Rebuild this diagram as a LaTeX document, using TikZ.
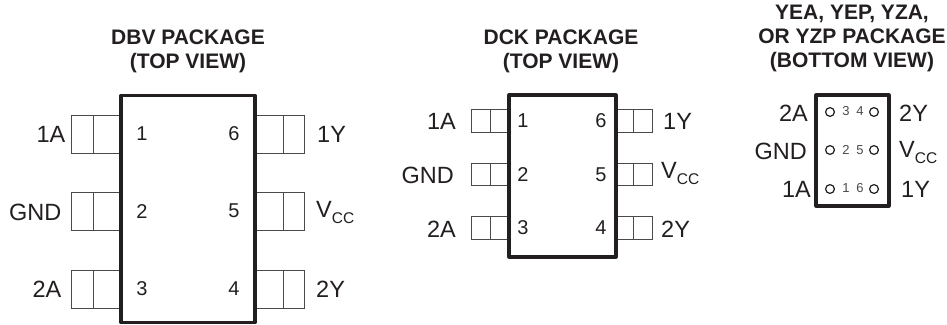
\documentclass[tikz,border=0pt]{standalone}
\usepackage{fontspec}
\setmainfont{Liberation Sans}
\usepackage{xcolor}
\usepackage{tikz}
\definecolor{inkgray}{HTML}{231F20}
\definecolor{pingray}{HTML}{4A4A4A}
\newcommand{\vccname}{V\raisebox{-6pt}{\fontsize{15.5}{16}\selectfont CC}}

\begin{document}
\begin{tikzpicture}
    [x=1pt,y=-1pt,
    body/.style = {draw=inkgray,line width=3.2pt,line join=round},
    pin/.style = {draw=pingray,line width=1pt},
    ball/.style = {circle,draw=inkgray,line width=1.2pt,inner sep=0pt,minimum size=8.8pt},
    title/.style = {align=center,text=inkgray,font=\fontsize{21}{24}\selectfont\bfseries},
    signal/.style = {inner sep=0pt,text=inkgray,font=\fontsize{23.5}{26}\selectfont},
    pinnum/.style = {inner sep=0pt,text=inkgray,font=\fontsize{20}{22}\selectfont},
    ballnum/.style = {inner sep=0pt,text=pingray,font=\fontsize{13}{14}\selectfont}]
    \useasboundingbox (0,0) rectangle (947,324);
    \fill[white] (0,0) rectangle (947,324);
    % Paquete DBV
    \node[title] (dbvtitle) at (188,51) {DBV PACKAGE\\(TOP VIEW)};
    \draw[pin] (71,115) rectangle (121,153);
    \draw[pin] (93,115) -- (93,153);
    \draw[pin] (71,192) rectangle (121,230);
    \draw[pin] (93,192) -- (93,230);
    \draw[pin] (71,270) rectangle (121,308);
    \draw[pin] (93,270) -- (93,308);
    \draw[pin] (255,115) rectangle (304,153);
    \draw[pin] (283,115) -- (283,153);
    \draw[pin] (255,192) rectangle (304,230);
    \draw[pin] (283,192) -- (283,230);
    \draw[pin] (255,270) rectangle (304,308);
    \draw[pin] (283,270) -- (283,308);
    \draw[body,fill=white] (121,95.5) rectangle (255,322.5);
    \node[pinnum] (dbv1) at (142,134) {1};
    \node[pinnum] (dbv2) at (142,212) {2};
    \node[pinnum] (dbv3) at (142,289) {3};
    \node[pinnum] (dbv4) at (234,289) {4};
    \node[pinnum] (dbv5) at (234,211) {5};
    \node[pinnum] (dbv6) at (234,134) {6};
    \node[signal,anchor=east] (dbv1a) at (65.5,134) {1A};
    \node[signal,anchor=east] (dbvgnd) at (61.5,212) {GND};
    \node[signal,anchor=east] (dbv2a) at (61.5,289) {2A};
    \node[signal,anchor=west] (dbv1y) at (317,134) {1Y};
    \node[signal,anchor=base west] (dbvvcc) at (316,217) {\vccname};
    \node[signal,anchor=west] (dbv2y) at (316,289) {2Y};
    % Paquete DCK
    \node[title] (dcktitle) at (561,51) {DCK PACKAGE\\(TOP VIEW)};
    \draw[pin] (471,109) rectangle (509,132);
    \draw[pin] (490,109) -- (490,132);
    \draw[pin] (471,163) rectangle (509,185);
    \draw[pin] (490,163) -- (490,185);
    \draw[pin] (471,216) rectangle (509,239);
    \draw[pin] (490,216) -- (490,239);
    \draw[pin] (616,109) rectangle (652,132);
    \draw[pin] (633,109) -- (633,132);
    \draw[pin] (616,163) rectangle (652,185);
    \draw[pin] (633,163) -- (633,185);
    \draw[pin] (616,216) rectangle (652,239);
    \draw[pin] (633,216) -- (633,239);
    \draw[body,fill=white] (509,95) rectangle (616,257);
    \node[pinnum] (dck1) at (523,121) {1};
    \node[pinnum] (dck2) at (523,175) {2};
    \node[pinnum] (dck3) at (523,228) {3};
    \node[pinnum] (dck4) at (601,228) {4};
    \node[pinnum] (dck5) at (601,175) {5};
    \node[pinnum] (dck6) at (601,121) {6};
    \node[signal,anchor=east] (dck1a) at (456,121) {1A};
    \node[signal,anchor=east] (dckgnd) at (454,175) {GND};
    \node[signal,anchor=east] (dck2a) at (456,229) {2A};
    \node[signal,anchor=west] (dck1y) at (663,121) {1Y};
    \node[signal,anchor=base west] (dckvcc) at (661,178) {\vccname};
    \node[signal,anchor=west] (dck2y) at (661,229) {2Y};
    % Paquete YEA
    \node[title] (yeatitle) at (852,38) {YEA, YEP, YZA,\\OR YZP PACKAGE\\(BOTTOM VIEW)};
    \draw[body] (816,95) rectangle (889,206);
    \node[ball] (ball3) at (830,112) {};
    \node[ball] (ball2) at (830,150) {};
    \node[ball] (ball1) at (830,189) {};
    \node[ball] (ball4) at (874,112) {};
    \node[ball] (ball5) at (874,150) {};
    \node[ball] (ball6) at (874,189) {};
    \node[ballnum] (num3) at (846,111) {3};
    \node[ballnum] (num2) at (846,150) {2};
    \node[ballnum] (num1) at (846,188) {1};
    \node[ballnum] (num4) at (860,111) {4};
    \node[ballnum] (num5) at (860,150) {5};
    \node[ballnum] (num6) at (860,188) {6};
    \node[signal,anchor=east] (yea2a) at (808,113) {2A};
    \node[signal,anchor=east] (yeagnd) at (807,151) {GND};
    \node[signal,anchor=east] (yea1a) at (811,189) {1A};
    \node[signal,anchor=west] (yea2y) at (899,113) {2Y};
    \node[signal,anchor=base west] (yeavcc) at (899,157) {\vccname};
    \node[signal,anchor=west] (yea1y) at (901,189) {1Y};
\end{tikzpicture}
\end{document}
